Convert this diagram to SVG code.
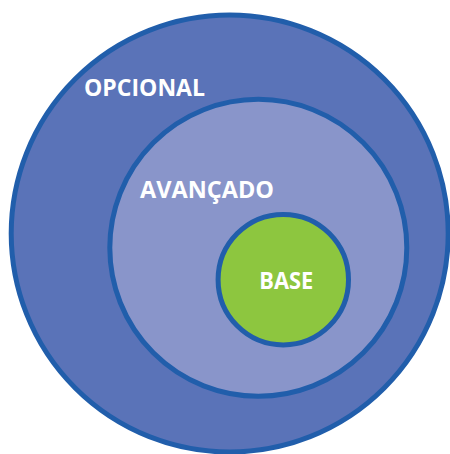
<svg xmlns="http://www.w3.org/2000/svg" width="450" height="454" viewBox="0 0 450 454">
<style>
.ring{stroke:#215EAB;stroke-width:5}
.lbl{fill:#FFFFFF;font-family:"Open Sans","Liberation Sans",sans-serif;font-weight:bold;font-size:23px}
</style>
<rect width="450" height="454" fill="#FFFFFF"/>
<g id="opcional">
<circle class="ring" cx="229.7" cy="233.5" r="218.5" fill="#5A73B8"/>
<text class="lbl" x="84" y="95.7" textLength="121" lengthAdjust="spacingAndGlyphs">OPCIONAL</text>
</g>
<g id="avancado">
<circle class="ring" cx="258.3" cy="247.8" r="148.5" fill="#8995CA"/>
<text class="lbl" x="140" y="197.7" textLength="134" lengthAdjust="spacingAndGlyphs">AVANÇADO</text>
</g>
<g id="base">
<circle class="ring" cx="283.3" cy="279.7" r="65.2" fill="#8DC63F"/>
<text class="lbl" x="259.3" y="289" textLength="54" lengthAdjust="spacingAndGlyphs">BASE</text>
</g>
<g id="connectors"/>
</svg>
